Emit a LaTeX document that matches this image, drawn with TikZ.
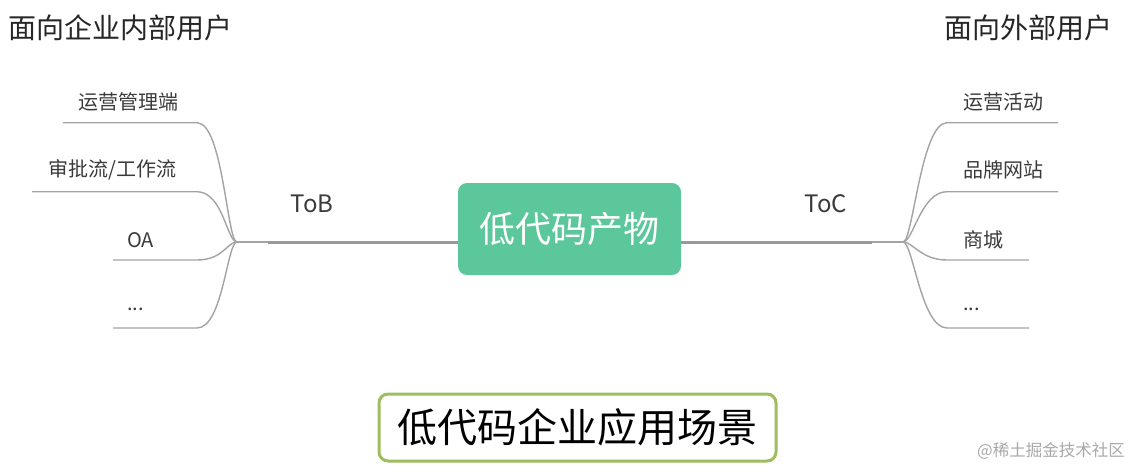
\documentclass[tikz,border=0pt]{standalone}
\usepackage{fontspec}
\usetikzlibrary{calc}
\newfontfamily\cjk{Noto Sans CJK SC}
\definecolor{linegray}{HTML}{A3A3A3}
\definecolor{trunkgray}{HTML}{999999}
\definecolor{boxgreen}{HTML}{5BC79A}
\definecolor{framegreen}{HTML}{9DBD5E}
\definecolor{labeltext}{HTML}{3A3A3A}
\definecolor{marktext}{HTML}{A8A8A8}
\tikzset{
  branch/.style={draw=linegray, line width=1.4pt},
  trunk/.style={draw=trunkgray, line width=3pt},
  leaf/.style={font=\cjk\fontsize{20}{20}\selectfont, text=labeltext, inner sep=0pt, anchor=west},
  side/.style={font=\cjk\fontsize{24}{24}\selectfont, text=labeltext, inner sep=0pt},
  heading/.style={font=\cjk\fontsize{28}{28}\selectfont, text=black!85, inner sep=0pt},
}
\begin{document}
\begin{tikzpicture}[x=1pt,y=-1pt]
\useasboundingbox (0,0) rectangle (1133,474);
% headings
\node[heading, anchor=west] (hl) at (8,28) {面向企业内部用户};
\node[heading, anchor=east] (hr) at (1113,28) {面向外部用户};
% center box
\node[fill=boxgreen, rounded corners=9pt, minimum width=223pt, minimum height=92pt, inner sep=0pt,
      font=\cjk\fontsize{36}{36}\selectfont, text=white] (c) at (569.5,229) {低代码产物};
% trunks
\coordinate (tl) at (268,242);
\coordinate (jl) at (237,242);
\coordinate (tr) at (872,242);
\coordinate (jr) at (903,242);
\draw[trunk] (c.west |- tl) -- (tl);
\draw[branch] (tl) -- (jl);
\draw[trunk] (c.east |- tr) -- (tr);
\draw[branch] (tr) -- (jr);
\node[side] (tob) at (312,204) {ToB};
\node[side] (toc) at (826,204) {ToC};
% left branches
\coordinate (l1a) at (63,122.7);  \coordinate (l1b) at (197,122.7);
\coordinate (l2a) at (32,191.7);  \coordinate (l2b) at (197,191.7);
\coordinate (l3a) at (113,260);   \coordinate (l3b) at (197,260);
\coordinate (l4a) at (113,328);   \coordinate (l4b) at (197,328);
\foreach \i in {1,2,3,4}{
  \draw[branch] (l\i a) -- (l\i b) .. controls ($(l\i b)+(26,0)$) and ($(jl)+(-10,0)$) .. (jl);
}
\node[leaf] (n1) at (78,102) {运营管理端};
\node[leaf] (n2) at (48,170) {审批流/工作流};
\node[leaf] (n3) at (127,240) {OA};
\node[leaf] (n4) at (127,309) {...};
% right branches
\coordinate (r1a) at (1058,122.7); \coordinate (r1b) at (947,122.7);
\coordinate (r2a) at (1058,191.7); \coordinate (r2b) at (947,191.7);
\coordinate (r3a) at (1029,260);   \coordinate (r3b) at (947,260);
\coordinate (r4a) at (1029,328);   \coordinate (r4b) at (947,328);
\foreach \i in {1,2,3,4}{
  \draw[branch] (r\i a) -- (r\i b) .. controls ($(r\i b)+(-26,0)$) and ($(jr)+(10,0)$) .. (jr);
}
\node[leaf] (m1) at (963,102) {运营活动};
\node[leaf] (m2) at (963,170) {品牌网站};
\node[leaf] (m3) at (963,240) {商城};
\node[leaf] (m4) at (963,309) {...};
% bottom caption box
\node[draw=framegreen, line width=3pt, rounded corners=9pt, minimum width=397pt, minimum height=67pt,
      inner sep=0pt, font=\cjk\fontsize{40}{40}\selectfont, text=black] (cap) at (577.5,427.5) {低代码企业应用场景};
% watermark
\node[font=\cjk\fontsize{16.5}{17}\selectfont, text=marktext, inner sep=0pt, anchor=east] (wm) at (1125,451) {@稀土掘金技术社区};
\end{tikzpicture}
\end{document}
